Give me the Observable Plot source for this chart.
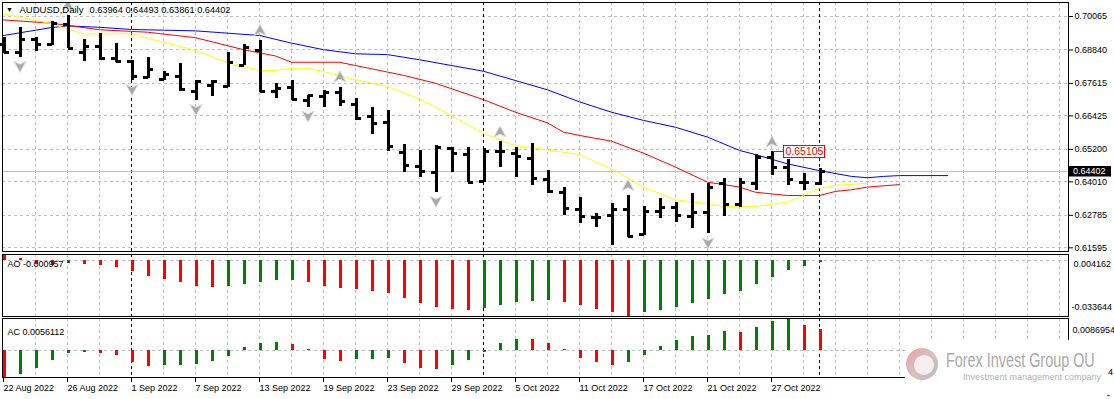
<!DOCTYPE html>
<html><head><meta charset="utf-8">
<script src="https://cdn.jsdelivr.net/npm/d3@7"></script>
<script src="https://cdn.jsdelivr.net/npm/@observablehq/plot@0.6"></script>
<style>
body{margin:0;background:#fff;}
#wrap{position:relative;width:1114px;height:399px;overflow:hidden;background:#fff;font-family:"Liberation Sans",Arial,sans-serif;}
#wrap svg{position:absolute;left:0;overflow:visible;}
</style></head><body><div id="wrap"></div>
<script>
// ---------- data ----------
const symbol = "AUDUSD", timeframe = "Daily";
const dates = ["2022-08-22","2022-08-23","2022-08-24","2022-08-25","2022-08-26","2022-08-29","2022-08-30","2022-08-31",
"2022-09-01","2022-09-02","2022-09-05","2022-09-06","2022-09-07","2022-09-08","2022-09-09","2022-09-12","2022-09-13","2022-09-14","2022-09-15","2022-09-16","2022-09-19","2022-09-20","2022-09-21","2022-09-22","2022-09-23","2022-09-26","2022-09-27","2022-09-28","2022-09-29","2022-09-30",
"2022-10-03","2022-10-04","2022-10-05","2022-10-06","2022-10-07","2022-10-10","2022-10-11","2022-10-12","2022-10-13","2022-10-14","2022-10-17","2022-10-18","2022-10-19","2022-10-20","2022-10-21","2022-10-24","2022-10-25","2022-10-26","2022-10-27","2022-10-28","2022-10-31",
"2022-11-01"];
const open  = [0.6904,0.6876,0.6921,0.6903,0.6977,0.6876,0.6897,0.6853,0.6842,0.6782,0.6776,0.6787,0.6733,0.6754,0.6750,0.6827,0.6882,0.6733,0.6746,0.6699,0.6714,0.6730,0.6684,0.6640,0.6620,0.6510,0.6457,0.6437,0.6522,0.6501,0.6404,0.6514,0.6504,0.6488,0.6409,0.6363,0.6299,0.6272,0.6278,0.6299,0.6209,0.6294,0.6308,0.6274,0.6287,0.6396,0.6318,0.6396,0.6490,0.6453,0.6400,0.63964];
const high  = [0.6931,0.6966,0.6931,0.6989,0.7010,0.6921,0.6943,0.6907,0.6845,0.6855,0.6805,0.6833,0.6772,0.6772,0.6876,0.6903,0.6919,0.6760,0.6772,0.6718,0.6736,0.6748,0.6705,0.6675,0.6662,0.6538,0.6516,0.6534,0.6526,0.6526,0.6522,0.6547,0.6528,0.6540,0.6443,0.6379,0.6345,0.6284,0.6321,0.6351,0.6311,0.6339,0.6327,0.6358,0.6394,0.6412,0.6412,0.6500,0.65105,0.6482,0.6433,0.64493];
const low   = [0.6870,0.6857,0.6880,0.6900,0.6888,0.6842,0.6845,0.6839,0.6772,0.6780,0.6774,0.6733,0.6699,0.6714,0.6748,0.6827,0.6729,0.6705,0.6699,0.6675,0.6675,0.6677,0.6626,0.6575,0.6513,0.6437,0.6416,0.6363,0.6437,0.6398,0.6400,0.6453,0.6416,0.6388,0.6358,0.6278,0.6247,0.6235,0.6168,0.6199,0.6205,0.6266,0.6254,0.6229,0.6211,0.6274,0.6306,0.6370,0.6424,0.6388,0.6370,0.63861];
const close = [0.6876,0.6921,0.6903,0.6982,0.6889,0.6897,0.6852,0.6842,0.6787,0.6811,0.6794,0.6738,0.6770,0.6770,0.6839,0.6894,0.6733,0.6742,0.6703,0.6716,0.6730,0.6696,0.6632,0.6615,0.6531,0.6461,0.6439,0.6528,0.6504,0.6400,0.6514,0.6512,0.6493,0.6412,0.6367,0.6302,0.6274,0.6272,0.6299,0.6201,0.6294,0.6306,0.6278,0.6287,0.6379,0.6318,0.6400,0.6490,0.6455,0.6410,0.6400,0.64402];

// Alligator (read at sampled bars, shifted lines extend into the future)
const jawIdx = [0,3,4,6,8,12,16,18,20,22,24,26,28,30,32,34,36,38,40,42,44,46,47,49,51,53,54,55,56,59];
const jawVal = [0.6937,0.6966,0.6972,0.6967,0.6959,0.6954,0.6937,0.6909,0.6885,0.6870,0.6867,0.6848,0.6827,0.6806,0.6772,0.6738,0.6694,0.6656,0.6626,0.6601,0.6565,0.6516,0.6501,0.6467,0.6442,0.6421,0.6416,0.6421,0.6424,0.6424];
const teethIdx = [0,3,6,9,12,15,17,18,21,23,25,27,30,32,34,35,36,38,40,42,44,46,47,49,51,52,53,54,56];
const teethVal = [0.6994,0.6982,0.6958,0.6949,0.6929,0.6885,0.6862,0.6839,0.6839,0.6815,0.6791,0.6762,0.6702,0.6656,0.6617,0.6583,0.6571,0.6550,0.6506,0.6455,0.6400,0.6382,0.6363,0.6351,0.6351,0.6366,0.6372,0.6382,0.6391];
const lipsIdx = [0,3,5,8,12,14,16,17,18,19,20,22,24,26,28,30,32,34,36,38,40,42,44,45,47,49,50,51,52,54];
const lipsVal = [0.7016,0.6980,0.6943,0.6943,0.6882,0.6838,0.6809,0.6809,0.6817,0.6817,0.6805,0.6775,0.6750,0.6705,0.6644,0.6578,0.6534,0.6518,0.6501,0.6449,0.6382,0.6335,0.6321,0.6311,0.6311,0.6327,0.6351,0.6377,0.6388,0.6396];

const fractalUp = [4,16,21,31,39,48];
const fractalDown = [1,8,12,19,27,38,44];
const markedBar = 48;

const ao = [0.004162,0.0012,-0.0020,-0.0026,-0.0018,-0.0025,-0.0031,-0.0043,-0.0067,-0.0097,-0.0115,-0.0133,-0.0157,-0.0163,-0.0157,-0.0145,-0.0133,-0.0121,-0.0119,-0.0133,-0.0157,-0.0167,-0.0175,-0.0187,-0.0199,-0.0228,-0.0260,-0.0282,-0.0296,-0.0302,-0.0288,-0.0272,-0.0254,-0.0245,-0.0240,-0.0254,-0.0270,-0.0296,-0.0318,-0.033644,-0.0318,-0.0302,-0.0284,-0.0258,-0.0236,-0.0204,-0.0187,-0.0143,-0.0101,-0.0061,-0.0035,-0.000957];
const aoBefore = 0.0049;
const ac = [-0.0073044,-0.0064,-0.0049,-0.0026,-0.0007,-0.0005,-0.0007,-0.0014,-0.0033,-0.0044,-0.0041,-0.0040,-0.0039,-0.0030,-0.0017,0.0008,0.0019,0.0023,0.0017,0.0002,-0.0025,-0.0030,-0.0024,-0.0023,-0.0021,-0.0035,-0.0049,-0.0052,-0.0041,-0.0027,-0.0004,0.0019,0.0030,0.0029,0.0019,0.0004,-0.0021,-0.0032,-0.0041,-0.0032,-0.0013,0.0011,0.0028,0.0039,0.0041,0.0051,0.0048,0.0062,0.0080,0.0086954,0.0068,0.0056112];
const acBefore = -0.0060;

const priceTicks = [0.70065,0.68840,0.67615,0.66425,0.65200,0.64010,0.62785,0.61595];
const labelEvery = 4;

// ---------- derived tables ----------
const parse = d3.utcParse("%Y-%m-%d");
const fmtDate = d3.utcFormat("%-d %b %Y");
const bars = dates.map((d,i)=>({i, date: parse(d), open: open[i], high: high[i], low: low[i], close: close[i]}));
const last = bars[bars.length-1];
const separators = bars.filter((b,i)=>i>0 && b.date.getUTCMonth()!==bars[i-1].date.getUTCMonth()).map(b=>b.i);
const dateTicks = bars.filter(b=>b.i % labelEvery===0).map(b=>b.i);
const jaw = jawIdx.map((i,k)=>({i, v: jawVal[k]}));
const teeth = teethIdx.map((i,k)=>({i, v: teethVal[k]}));
const lips = lipsIdx.map((i,k)=>({i, v: lipsVal[k]}));
const aoData = ao.map((v,i)=>({i, v, up: v > (i? ao[i-1] : aoBefore)}));
const acData = ac.map((v,i)=>({i, v, up: v > (i? ac[i-1] : acBefore)}));
const upFr = fractalUp.map(i=>bars[i]);
const dnFr = fractalDown.map(i=>bars[i]);

// ---------- layout ----------
const W = 1114, ML = 2, MR = 46;
const xDomain = [-0.0625, 66.5625];
const gridIdx = d3.range(2, 67, 2);
const FONT = '"Liberation Sans", Arial, sans-serif';
const GRID = "#c0c0c0", DASH = "3,3";
const GREEN = "#008000", RED = "#ff0000";
const style = {fontFamily: FONT, fontSize: "9px", color: "#000", background: "transparent", overflow: "visible"};

const arrowUp = {draw(ctx){ ctx.moveTo(0,-6); ctx.lineTo(6,5); ctx.lineTo(0,2); ctx.lineTo(-6,5); ctx.closePath(); }};
const arrowDown = {draw(ctx){ ctx.moveTo(0,6); ctx.lineTo(6,-5); ctx.lineTo(0,-2); ctx.lineTo(-6,-5); ctx.closePath(); }};

const commonGrid = [
  Plot.ruleX(gridIdx, {stroke: GRID, strokeDasharray: DASH, shapeRendering: "crispEdges"}),
  Plot.ruleX(separators, {stroke: "#000", strokeDasharray: DASH, shapeRendering: "crispEdges"})
];

const main = Plot.plot({
  width: W, height: 252, marginLeft: ML, marginRight: MR, marginTop: 2, marginBottom: 1,
  style,
  x: {domain: xDomain, axis: null},
  y: {domain: [0.61460, 0.70578], axis: null},
  marks: [
    Plot.ruleY(priceTicks, {stroke: GRID, strokeDasharray: DASH, shapeRendering: "crispEdges"}),
    ...commonGrid,
    Plot.ruleY([last.close], {stroke: GRID, shapeRendering: "crispEdges"}),
    Plot.line(jaw, {x: "i", y: "v", stroke: "#0000ff", strokeWidth: 1}),
    Plot.line(teeth, {x: "i", y: "v", stroke: "#ff0000", strokeWidth: 1}),
    Plot.line(lips, {x: "i", y: "v", stroke: "#ffff00", strokeWidth: 1}),
    Plot.ruleX(bars, {x: "i", y1: "low", y2: "high", stroke: "#000", strokeWidth: 3, dx: 0.5, shapeRendering: "crispEdges"}),
    Plot.link(bars, {x1: d=>d.i-0.33, x2: "i", y1: "open", y2: "open", stroke: "#000", strokeWidth: 3, dx: 0.5, shapeRendering: "crispEdges"}),
    Plot.link(bars, {x1: "i", x2: d=>d.i+0.33, y1: "close", y2: "close", stroke: "#000", strokeWidth: 3, dx: 0.5, shapeRendering: "crispEdges"}),
    Plot.dot(upFr, {x: "i", y: "high", dy: -10, dx: 0.5, symbol: arrowUp, fill: "#a8a8a8", stroke: "#dadada", strokeWidth: 1, clip: true}),
    Plot.dot(dnFr, {x: "i", y: "low", dy: 9, dx: 0.5, symbol: arrowDown, fill: "#a8a8a8", stroke: "#dadada", strokeWidth: 1, clip: true}),
    Plot.frame({stroke: "#000", shapeRendering: "crispEdges"}),
    Plot.axisY(priceTicks, {anchor: "right", tickSize: 4, tickPadding: 2, tickFormat: d=>d.toFixed(5), fill: "#000", stroke: "#000"})
  ]
});
main.style.top = "0px";
document.getElementById("wrap").appendChild(main);

// title and price labels, placed through the plot's own scales
{
  const xs = main.scale("x"), ys = main.scale("y");
  const g = d3.select(main).append("g").attr("font-family", FONT).attr("text-anchor", "start");
  g.append("text").attr("x", 6).attr("y", 10).attr("dy", "0.35em").attr("font-size", 7).attr("fill", "#000").text("\u25BC");
  g.append("text").attr("x", 19.5).attr("y", 10).attr("dy", "0.35em").attr("font-size", 9.4).attr("fill", "#000")
    .attr("textLength", 64).attr("lengthAdjust", "spacingAndGlyphs")
    .text(`${symbol},${timeframe}`);
  g.append("text").attr("x", 89.5).attr("y", 10).attr("dy", "0.35em").attr("font-size", 9.4).attr("fill", "#000")
    .attr("textLength", 141).attr("lengthAdjust", "spacingAndGlyphs")
    .text(`${last.open.toFixed(5)} ${last.high.toFixed(5)} ${last.low.toFixed(5)} ${last.close.toFixed(5)}`);
  const yc = Math.round(ys.apply(last.close));
  const xr = W - MR;
  g.append("rect").attr("x", xr + 1).attr("y", yc - 5).attr("width", 42).attr("height", 10.5).attr("fill", "#000");
  g.append("text").attr("x", xr + 5).attr("y", yc).attr("dy", "0.34em").attr("fill", "#fff").attr("font-size", 9).text(last.close.toFixed(5));
  const b = bars[markedBar];
  const xb = Math.round(xs.apply(b.i)) + 2, yb = Math.round(ys.apply(b.high)) + 0.5;
  g.append("line").attr("x1", xb).attr("x2", xb + 10).attr("y1", yb).attr("y2", yb).attr("stroke", RED);
  g.append("rect").attr("x", xb + 10.5).attr("y", yb - 6).attr("width", 41).attr("height", 12).attr("fill", "#fff").attr("stroke", RED);
  g.append("text").attr("x", xb + 12.5).attr("y", yb).attr("dy", "0.36em").attr("fill", RED).attr("font-size", 10.5).text(b.high.toFixed(5));
}

const aoPlot = Plot.plot({
  width: W, height: 66, marginLeft: ML, marginRight: MR, marginTop: 2.5, marginBottom: 1.5,
  style,
  x: {domain: xDomain, axis: null},
  y: {domain: d3.extent(ao), axis: null},
  marks: [
    ...commonGrid,
    Plot.ruleY([0], {stroke: GRID, strokeDasharray: DASH, shapeRendering: "crispEdges"}),
    Plot.ruleX(aoData, {x: "i", y1: 0, y2: "v", stroke: d=>d.up ? GREEN : RED, strokeWidth: 3, dx: 0.5, shapeRendering: "crispEdges"}),
    Plot.frame({stroke: "#000", shapeRendering: "crispEdges"}),
    Plot.text([`AO ${ao[ao.length-1].toFixed(6)}`], {frameAnchor: "top-left", dx: 5, dy: 6.5, textAnchor: "start", fill: "#000"}),
    Plot.text([d3.max(ao).toFixed(6)], {frameAnchor: "top-right", dx: 5, dy: 6.5, textAnchor: "start", fill: "#000"}),
    Plot.text([d3.min(ao).toFixed(6)], {frameAnchor: "bottom-right", dx: 3, dy: -6, textAnchor: "start", fill: "#000"})
  ]
});
aoPlot.style.top = "251px";
document.getElementById("wrap").appendChild(aoPlot);

const acPlot = Plot.plot({
  width: W, height: 83, marginLeft: ML, marginRight: MR, marginTop: 2, marginBottom: 22,
  style,
  x: {domain: xDomain, axis: null},
  y: {domain: d3.extent(ac), axis: null},
  marks: [
    ...commonGrid,
    Plot.ruleY([0], {stroke: GRID, strokeDasharray: DASH, shapeRendering: "crispEdges"}),
    Plot.ruleX(acData, {x: "i", y1: 0, y2: "v", stroke: d=>d.up ? GREEN : RED, strokeWidth: 3, dx: 0.5, shapeRendering: "crispEdges"}),
    Plot.frame({stroke: "#000", shapeRendering: "crispEdges"}),
    Plot.axisX(dateTicks, {anchor: "bottom", tickSize: 5, tickPadding: 2, textAnchor: "start", tickFormat: i=>fmtDate(bars[i].date), fill: "#000", stroke: "#000"}),
    Plot.text([`AC ${ac[ac.length-1].toFixed(7)}`], {frameAnchor: "top-left", dx: 5, dy: 10, textAnchor: "start", fill: "#000"}),
    Plot.text([d3.max(ac).toFixed(7)], {frameAnchor: "top-right", dx: 4, dy: 8, textAnchor: "start", fill: "#000"})
  ]
});
acPlot.style.top = "316px";
document.getElementById("wrap").appendChild(acPlot);

// watermark (logo image in the original); it hides the lower AC scale label except its last digit
{
  const svg = d3.select("#wrap").append("svg").attr("width", 214).attr("height", 61)
    .style("left", "900px").style("top", "338px");
  const defs = svg.append("defs");
  const gr = defs.append("linearGradient").attr("id", "lg").attr("x1", 0).attr("y1", 0).attr("x2", 1).attr("y2", 1);
  gr.append("stop").attr("offset", "0%").attr("stop-color", "#e9a3a3");
  gr.append("stop").attr("offset", "55%").attr("stop-color", "#d7c2c2");
  gr.append("stop").attr("offset", "100%").attr("stop-color", "#b8b8b8");
  svg.append("rect").attr("x", 5).attr("y", 2).attr("width", 202).attr("height", 59).attr("fill", "#fff");
  svg.append("circle").attr("cx", 22).attr("cy", 26).attr("r", 16).attr("fill", "url(#lg)");
  svg.append("circle").attr("cx", 24).attr("cy", 27).attr("r", 10).attr("fill", "#fff").attr("opacity", 0.75);
  // tall, condensed lettering: Arial-metric text at its natural width, stretched vertically
  svg.append("text").attr("transform", "translate(46,28.5) scale(1,1.45)").attr("font-family", FONT)
    .attr("font-size", 14.4).attr("fill", "#a9a9a9").text("Forex Invest Group OU");
  svg.append("text").attr("x", 63).attr("y", 42).attr("font-family", FONT)
    .attr("font-size", 9).attr("fill", "#b3b3b3").text("Investment management company");
  const tail = d3.min(ac).toFixed(7);
  svg.append("text").attr("x", 208).attr("y", 34).attr("dy", "0.35em").attr("font-family", FONT).attr("font-size", 9)
    .attr("fill", "#000").text(tail.slice(-1));
}
</script></body></html>
